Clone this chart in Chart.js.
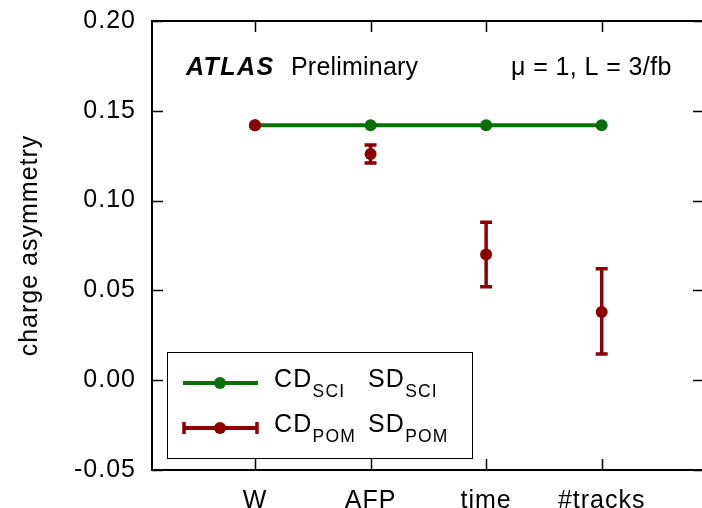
<!DOCTYPE html>
<html>
<head>
<meta charset="utf-8">
<script src="https://cdn.jsdelivr.net/npm/chart.js@4/dist/chart.umd.min.js"></script>
<style>
  html, body { margin: 0; padding: 0; background: #fff; }
  #wrap { width: 702px; height: 508px; }
</style>
</head>
<body>
<div id="wrap"><canvas id="chart" width="702" height="508"></canvas></div>
<script>
  "use strict";

  // values
  var categories = ["W", "AFP", "time", "#tracks"];
  var sciValues = [0.142, 0.142, 0.142, 0.142];
  var pomValues = [0.142, 0.126, 0.070, 0.038];
  var pomErrHigh = [0.142, 0.131, 0.088, 0.062];
  var pomErrLow = [0.142, 0.121, 0.052, 0.0146];
  var yTicks = [-0.05, 0.00, 0.05, 0.10, 0.15, 0.20];
  var legendMain = ["CD", "SD"];
  var legendSubs = [["SCI", "SCI"], ["POM", "POM"]];
  var yTitle = "charge asymmetry";
  var atlasLabel = ["ATLAS", "Preliminary"];
  var runLabel = "\u03bc = 1, L = 3/fb";

  var GREEN = "#0a6e0a";
  var RED = "#8b0000";
  var FONT = "'Liberation Sans', Arial, Helvetica, sans-serif";

  function points(values) {
    return values.map(function (v, i) {
      return { x: i, y: v };
    });
  }

  function spacing(ctx, px) {
    if ("letterSpacing" in ctx) {
      ctx.letterSpacing = px + "px";
    }
  }

  // axis texts in the reference are a bit wider than Liberation Sans
  var wideText = {
    id: "wideText",
    beforeDraw: function (chart) {
      spacing(chart.ctx, 1);
    },
    beforeDatasetsDraw: function (chart) {
      spacing(chart.ctx, 0);
    }
  };

  var errorBars = {
    id: "errorBars",
    afterDatasetDraw: function (chart, args) {
      if (args.index !== 0) {
        return;
      }
      var ctx = chart.ctx;
      var xs = chart.scales.x;
      var ys = chart.scales.y;
      ctx.save();
      ctx.strokeStyle = RED;
      ctx.lineWidth = 3.5;
      pomValues.forEach(function (v, i) {
        if (pomErrHigh[i] === pomErrLow[i]) {
          return;
        }
        var x = xs.getPixelForValue(i);
        var top = ys.getPixelForValue(pomErrHigh[i]);
        var bot = ys.getPixelForValue(pomErrLow[i]);
        ctx.beginPath();
        ctx.moveTo(x, top);
        ctx.lineTo(x, bot);
        ctx.moveTo(x - 6, top);
        ctx.lineTo(x + 6, top);
        ctx.moveTo(x - 6, bot);
        ctx.lineTo(x + 6, bot);
        ctx.stroke();
      });
      ctx.restore();
    }
  };

  var frame = {
    id: "frame",
    afterDraw: function (chart) {
      var ctx = chart.ctx;
      var a = chart.chartArea;
      var xs = chart.scales.x;
      var ys = chart.scales.y;
      ctx.save();
      ctx.strokeStyle = "#000";
      ctx.lineWidth = 2;
      ctx.beginPath();
      ctx.moveTo(a.right + 2, a.top);
      ctx.lineTo(a.left, a.top);
      ctx.lineTo(a.left, a.bottom);
      ctx.lineTo(a.right + 2, a.bottom);
      ctx.stroke();

      ctx.lineWidth = 1.5;
      ctx.beginPath();
      yTicks.forEach(function (t) {
        var y = Math.round(ys.getPixelForValue(t)) + 0.5;
        ctx.moveTo(a.left, y);
        ctx.lineTo(a.left + 11, y);
        ctx.moveTo(a.right, y);
        ctx.lineTo(a.right - 9, y);
      });
      categories.forEach(function (c, i) {
        var x = Math.round(xs.getPixelForValue(i)) + 0.5;
        ctx.moveTo(x, a.top);
        ctx.lineTo(x, a.top + 11);
        ctx.moveTo(x, a.bottom);
        ctx.lineTo(x, a.bottom - 11);
      });
      ctx.stroke();

      // header texts
      ctx.fillStyle = "#000";
      ctx.textBaseline = "alphabetic";
      ctx.textAlign = "left";
      ctx.font = "italic bold 25px " + FONT;
      spacing(ctx, 1.4);
      ctx.fillText(atlasLabel[0], 186, 75);
      ctx.font = "25px " + FONT;
      spacing(ctx, 0.2);
      ctx.fillText(atlasLabel[1], 291, 75);
      spacing(ctx, 0.4);
      ctx.fillText(runLabel, 511, 75);

      // legend
      var lx = 167.5, ly = 352.5, lw = 305, lh = 106;
      spacing(ctx, 0);
      ctx.fillStyle = "#fff";
      ctx.fillRect(lx, ly, lw, lh);
      ctx.strokeStyle = "#000";
      ctx.lineWidth = 1;
      ctx.strokeRect(lx, ly, lw, lh);

      var rows = [{ y: 383, color: GREEN, caps: false }, { y: 428, color: RED, caps: true }];
      rows.forEach(function (r, k) {
        ctx.strokeStyle = r.color;
        ctx.fillStyle = r.color;
        ctx.lineWidth = 4;
        ctx.beginPath();
        ctx.moveTo(183, r.y);
        ctx.lineTo(258, r.y);
        ctx.stroke();
        if (r.caps) {
          ctx.lineWidth = 3.5;
          ctx.beginPath();
          ctx.moveTo(184, r.y - 6);
          ctx.lineTo(184, r.y + 6);
          ctx.moveTo(257, r.y - 6);
          ctx.lineTo(257, r.y + 6);
          ctx.stroke();
        }
        ctx.beginPath();
        ctx.arc(220, r.y, 6, 0, Math.PI * 2);
        ctx.fill();

        ctx.fillStyle = "#000";
        var base = r.y + 4;
        var starts = [274, 368];
        legendMain.forEach(function (m, j) {
          var x = starts[j];
          ctx.font = "25px " + FONT;
          spacing(ctx, 1.2);
          ctx.fillText(m, x, base);
          x += ctx.measureText(m).width;
          ctx.font = "17.5px " + FONT;
          spacing(ctx, 1.2);
          ctx.fillText(legendSubs[k][j], x, base + 10);
        });
      });
      ctx.restore();
    }
  };

  new Chart(document.getElementById("chart").getContext("2d"), {
    type: "scatter",
    data: {
      datasets: [
        {
          label: "POM",
          data: points(pomValues),
          showLine: false,
          pointRadius: 6,
          pointHoverRadius: 6,
          pointBackgroundColor: RED,
          pointBorderColor: RED,
          pointBorderWidth: 0
        },
        {
          label: "SCI",
          data: points(sciValues),
          showLine: true,
          borderColor: GREEN,
          borderWidth: 4,
          pointRadius: 6,
          pointHoverRadius: 6,
          pointBackgroundColor: GREEN,
          pointBorderColor: GREEN,
          pointBorderWidth: 0
        }
      ]
    },
    options: {
      responsive: false,
      animation: false,
      devicePixelRatio: 1,
      layout: { autoPadding: false, padding: { top: 21, right: 0, bottom: 0, left: 0 } },
      plugins: {
        legend: { display: false },
        tooltip: { enabled: false }
      },
      scales: {
        x: {
          type: "linear",
          min: -0.891,
          max: 3.868,
          grid: { display: false, drawTicks: false },
          border: { display: false },
          afterBuildTicks: function (scale) {
            scale.ticks = categories.map(function (c, i) {
              return { value: i };
            });
          },
          afterFit: function (scale) {
            scale.height = 38;
            scale.paddingLeft = 0;
            scale.paddingRight = 0;
          },
          ticks: {
            color: "#000",
            font: { family: FONT, size: 25 },
            padding: 16,
            maxRotation: 0,
            autoSkip: false,
            callback: function (v) {
              return categories[v];
            }
          }
        },
        y: {
          min: -0.05,
          max: 0.2,
          grid: { display: false, drawTicks: false },
          border: { display: false },
          afterBuildTicks: function (scale) {
            scale.ticks = yTicks.map(function (t) {
              return { value: t };
            });
          },
          afterFit: function (scale) {
            scale.width = 152;
            scale.paddingTop = 0;
            scale.paddingBottom = 0;
          },
          title: {
            display: true,
            text: yTitle,
            color: "#000",
            font: { family: FONT, size: 25 },
            padding: { top: 15, bottom: 0 }
          },
          ticks: {
            color: "#000",
            font: { family: FONT, size: 25 },
            padding: 16,
            callback: function (v) {
              return v.toFixed(2);
            }
          }
        }
      }
    },
    plugins: [wideText, errorBars, frame]
  });
</script>
</body>
</html>
